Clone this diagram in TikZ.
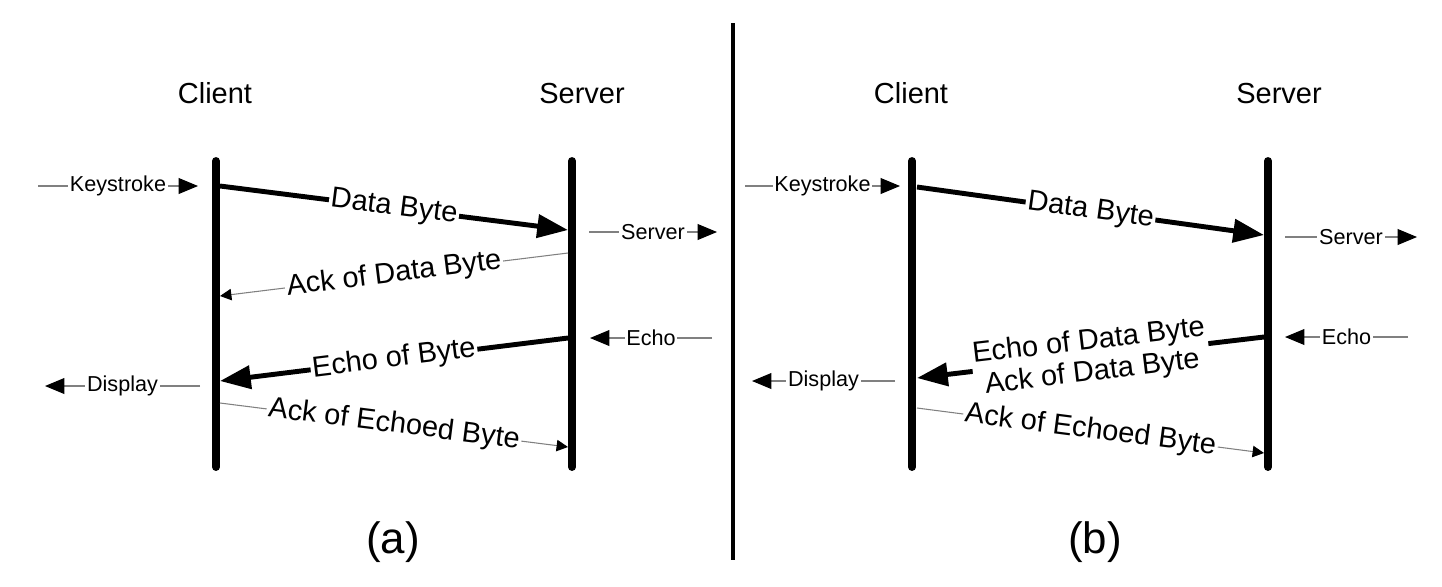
\documentclass[tikz,border=0pt]{standalone}
\usepackage{fontspec}
\setmainfont{Liberation Sans}
\usetikzlibrary{arrows.meta}

\begin{document}
\begin{tikzpicture}[x=0.02cm,y=-0.02cm,
  life/.style={line width=4.5pt, line cap=round},
  big/.style={line width=2.8pt, -{Triangle[length=17.5pt,width=13pt]}},
  thin/.style={line width=0.6pt, draw=gray, -{Triangle[length=6.5pt,width=6.5pt,color=black]}},
  side/.style={line width=0.6pt, draw=gray, -{Triangle[length=11pt,width=9pt,color=black]}},
  msg/.style={sloped, fill=white, inner sep=1pt, font=\fontsize{16.5}{18}\selectfont},
  lbl/.style={fill=white, inner sep=1pt, font=\fontsize{12.3}{14}\selectfont},
  head/.style={anchor=base, font=\fontsize{16.5}{18}\selectfont}]
\useasboundingbox (0,0) rectangle (1442,586);

% (a)
\node[head] (clientA) at (215,103) {Client};
\node[head] (serverA) at (582,103) {Server};
\node[anchor=base, font=\fontsize{25}{28}\selectfont] (capA) at (393,553) {(a)};
\coordinate (cTopA) at (216,161); \coordinate (cBotA) at (216,467);
\coordinate (sTopA) at (572,161); \coordinate (sBotA) at (572,467);
\draw[life] (cTopA) -- (cBotA);
\draw[life] (sTopA) -- (sBotA);

\coordinate (keyA1) at (38,186); \coordinate (keyA2) at (198,186);
\draw[side] (keyA1) -- node[lbl] (keyA) {Keystroke} (keyA2);
\coordinate (srvA1) at (589,232); \coordinate (srvA2) at (717,232);
\draw[side] (srvA1) -- node[lbl] (srvA) {Server} (srvA2);
\coordinate (echA1) at (712,338); \coordinate (echA2) at (590,338);
\draw[side] (echA1) -- node[lbl] (echA) {Echo} (echA2);
\coordinate (dspA1) at (200,386); \coordinate (dspA2) at (45,386);
\draw[side] (dspA1) -- node[lbl] (dspA) {Display} (dspA2);

\coordinate (a1) at (220,186); \coordinate (a2) at (568,230);
\draw[big] (a1) -- node[msg] (dataA) {Data Byte} (a2);
\coordinate (a3) at (568,253); \coordinate (a4) at (220,296);
\draw[thin] (a3) -- node[msg] (ackA) {Ack of Data Byte} (a4);
\coordinate (a5) at (568,338); \coordinate (a6) at (220,381);
\draw[big] (a5) -- node[msg] (echoA) {Echo of Byte} (a6);
\coordinate (a7) at (220,403); \coordinate (a8) at (568,447);
\draw[thin] (a7) -- node[msg] (ackEA) {Ack of Echoed Byte} (a8);

\coordinate (divTop) at (733,23); \coordinate (divBot) at (733,560);
\draw[line width=2.3pt] (divTop) -- (divBot);

% (b)
\node[head] (clientB) at (911,103) {Client};
\node[head] (serverB) at (1279,103) {Server};
\node[anchor=base, font=\fontsize{25}{28}\selectfont] (capB) at (1095,553) {(b)};
\coordinate (cTopB) at (912,161); \coordinate (cBotB) at (912,467);
\coordinate (sTopB) at (1268,161); \coordinate (sBotB) at (1268,467);
\draw[life] (cTopB) -- (cBotB);
\draw[life] (sTopB) -- (sBotB);

\coordinate (keyB1) at (745,186); \coordinate (keyB2) at (900,186);
\draw[side] (keyB1) -- node[lbl] (keyB) {Keystroke} (keyB2);
\coordinate (srvB1) at (1285,237); \coordinate (srvB2) at (1417,237);
\draw[side] (srvB1) -- node[lbl] (srvB) {Server} (srvB2);
\coordinate (echB1) at (1408,337); \coordinate (echB2) at (1285,337);
\draw[side] (echB1) -- node[lbl] (echB) {Echo} (echB2);
\coordinate (dspB1) at (895,381); \coordinate (dspB2) at (752,381);
\draw[side] (dspB1) -- node[lbl] (dspB) {Display} (dspB2);

\coordinate (b1) at (917,187); \coordinate (b2) at (1264,235);
\draw[big] (b1) -- node[msg] (dataB) {Data Byte} (b2);
\coordinate (b3) at (1264,337); \coordinate (b4) at (917,378);
\draw[big] (b3) -- node[msg, align=center] (echoB) {Echo of Data Byte\\Ack of Data Byte} (b4);
\coordinate (b5) at (917,408); \coordinate (b6) at (1264,453);
\draw[thin] (b5) -- node[msg] (ackEB) {Ack of Echoed Byte} (b6);
\end{tikzpicture}
\end{document}
